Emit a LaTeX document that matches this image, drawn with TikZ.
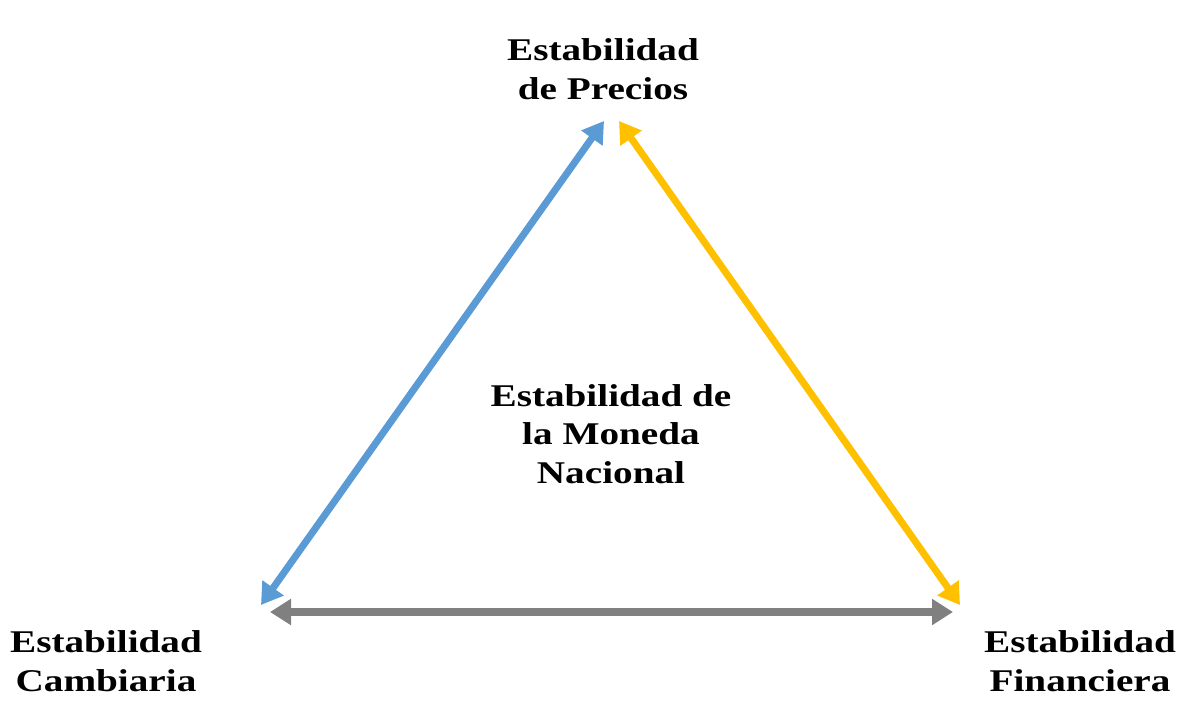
\documentclass[tikz,border=0pt]{standalone}
\usepackage{fontspec}
\setmainfont{Liberation Serif}[FakeStretch=1.24]
\usepackage{tikz}
\usetikzlibrary{arrows.meta}
\definecolor{precblue}{HTML}{5B9BD5}
\definecolor{finyellow}{HTML}{FFC000}
\definecolor{camgray}{HTML}{808080}
\tikzset{
  lbl/.style={align=center, font=\fontsize{18}{22}\selectfont\bfseries, inner sep=0pt},
  stab/.style={line width=4pt, {Triangle[length=0.42cm,width=0.5cm]}-{Triangle[length=0.42cm,width=0.5cm]}}
}
\newcommand{\stablabel}[3] {\node at (#1) (#2) [lbl] {#3};}
\newcommand{\stabarrow}[3] {\draw [stab, #3] (#1) -- (#2);}

\begin{document}
\begin{tikzpicture}[x=0.02cm, y=-0.02cm]
\useasboundingbox (0,0) rectangle (1192,703);

\stablabel {603,69}{precios}{Estabilidad\\de Precios}
\stablabel {106,661}{cambiaria}{Estabilidad\\Cambiaria}
\stablabel {1080,661}{financiera}{Estabilidad\\Financiera}
\stablabel {611,434}{moneda}{Estabilidad de\\la Moneda\\Nacional}

\coordinate (topl) at (604,121);
\coordinate (topr) at (619,121);
\coordinate (botl) at (261,605);
\coordinate (botr) at (960,605);
\coordinate (basel) at (270,612);
\coordinate (baser) at (953,612);

\stabarrow {botl}{topl}{precblue}
\stabarrow {topr}{botr}{finyellow}
\stabarrow {basel}{baser}{camgray}
\end{tikzpicture}
\end{document}
